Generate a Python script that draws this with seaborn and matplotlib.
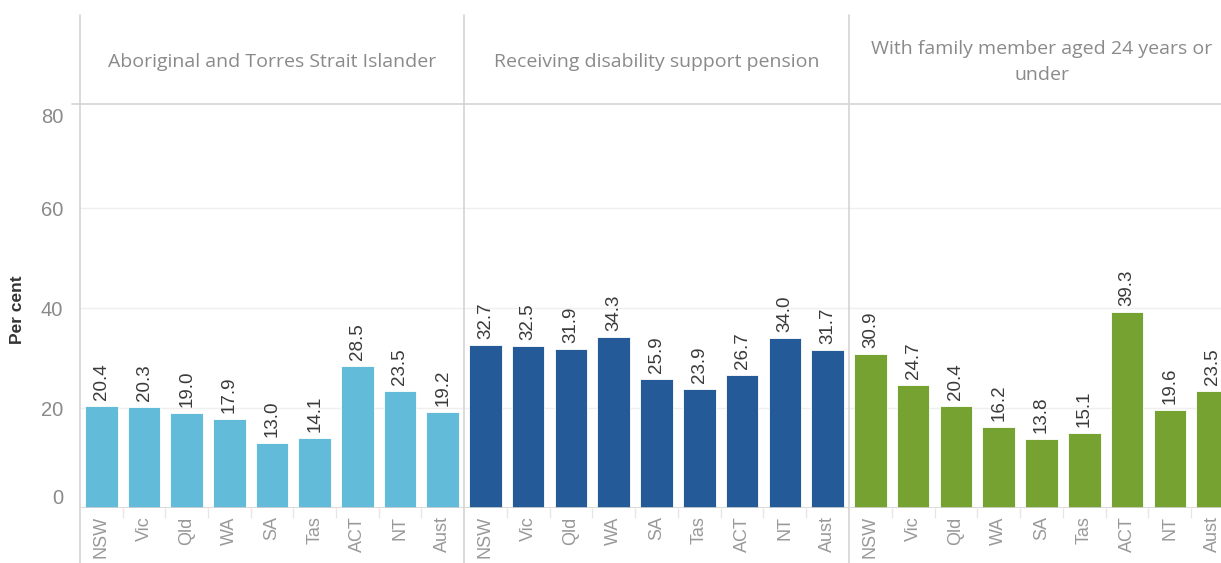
import matplotlib
matplotlib.use("Agg")
import matplotlib.pyplot as plt
from matplotlib.lines import Line2D
import seaborn as sns
import pandas as pd

states = ["NSW", "Vic", "Qld", "WA", "SA", "Tas", "ACT", "NT", "Aust"]
panels = ["Aboriginal and Torres Strait Islander",
          "Receiving disability support pension",
          "With family member aged 24 years or\nunder"]
aboriginal = [20.4, 20.3, 19.0, 17.9, 13.0, 14.1, 28.5, 23.5, 19.2]
disability = [32.7, 32.5, 31.9, 34.3, 25.9, 23.9, 26.7, 34.0, 31.7]
family = [30.9, 24.7, 20.4, 16.2, 13.8, 15.1, 39.3, 19.6, 23.5]
colors = ["#63BBDA", "#255A99", "#76A232"]
yticks = [0, 20, 40, 60, 80]

series = [aboriginal, disability, family]
df = pd.concat([pd.DataFrame({"State": states, "Value": vals, "Panel": p})
                for p, vals in zip(panels, series)], ignore_index=True)

sns.set_theme(style="white")
plt.rcParams["font.family"] = ["Liberation Sans", "DejaVu Sans"]

W, H = 1221, 563
fig = plt.figure(figsize=(W / 100, H / 100), dpi=100)

def fx(px):
    return px / W

def fy(py):
    return 1 - py / H

line_c = "#d4d4d4"
grid_c = "#efefef"
edges = [80, 464, 849, 1234]
top_px, base_px = 104, 508
ymax = (base_px - top_px) / 5.0

for i, p in enumerate(panels):
    left = edges[i]
    ax = fig.add_axes([fx(left), fy(base_px), fx(edges[i + 1] - left), (base_px - top_px) / H])
    sub = df[df["Panel"] == p]
    sns.barplot(data=sub, x="State", y="Value", order=states, color=colors[i],
                width=0.76, ax=ax, saturation=1, edgecolor="white", linewidth=0.6)
    ax.set_xlim(-0.5, len(states) - 0.5)
    ax.set_ylim(0, ymax)
    for s in ax.spines.values():
        s.set_visible(False)
    for t in [20, 40, 60]:
        ax.axhline(t, color=grid_c, lw=1, zorder=0)
    ax.axhline(0, color=line_c, lw=1.2, zorder=3)
    for j, v in enumerate(sub["Value"]):
        ax.annotate(f"{v:.1f}", (j, v), xytext=(0, 4), textcoords="offset points",
                    rotation=90, ha="center", va="bottom", fontsize=13.5, color="#3a3a3a")
    ax.set_xlabel("")
    ax.set_ylabel("")
    ax.set_xticks(range(len(states)))
    ax.set_xticklabels(states, rotation=90, fontsize=13, color="#999999")
    ax.set_xticks([k + 0.5 for k in range(len(states) - 1)], minor=True)
    ax.tick_params(axis="x", which="major", length=0, pad=6)
    ax.tick_params(axis="x", which="minor", length=7, color="#e6e6e6", width=1, direction="out")
    ax.xaxis.set_ticks_position("bottom")
    if i == 0:
        ax.set_yticks(yticks)
        ax.set_yticklabels([str(t) for t in yticks], fontsize=14.5, color="#8a8a8a")
        ax.tick_params(axis="y", length=8, color="#e6e6e6", width=1, pad=4, direction="out")
        labs = ax.get_yticklabels()
        labs[0].set_va("bottom")
        labs[-1].set_va("top")
    else:
        ax.set_yticks([])
    # header
    cx = (left + min(edges[i + 1], 1234)) / 2
    fig.text(fx(cx), fy(62), p, ha="center", va="center",
             fontsize=14, color="#8a8a8a", family=["Open Sans", "DejaVu Sans"],
             linespacing=1.5)

# panel dividers and header line
for x in edges[:3]:
    fig.add_artist(Line2D([fx(x), fx(x)], [fy(15), 0], color=line_c, lw=1.2))
fig.add_artist(Line2D([fx(72), 1], [fy(top_px), fy(top_px)], color=line_c, lw=1.2))

fig.text(fx(18), fy(310), "Per cent", rotation=90, ha="center", va="center",
         fontsize=12.5, color="#333333", fontweight="semibold")

fig.savefig("out.png", dpi=100)
